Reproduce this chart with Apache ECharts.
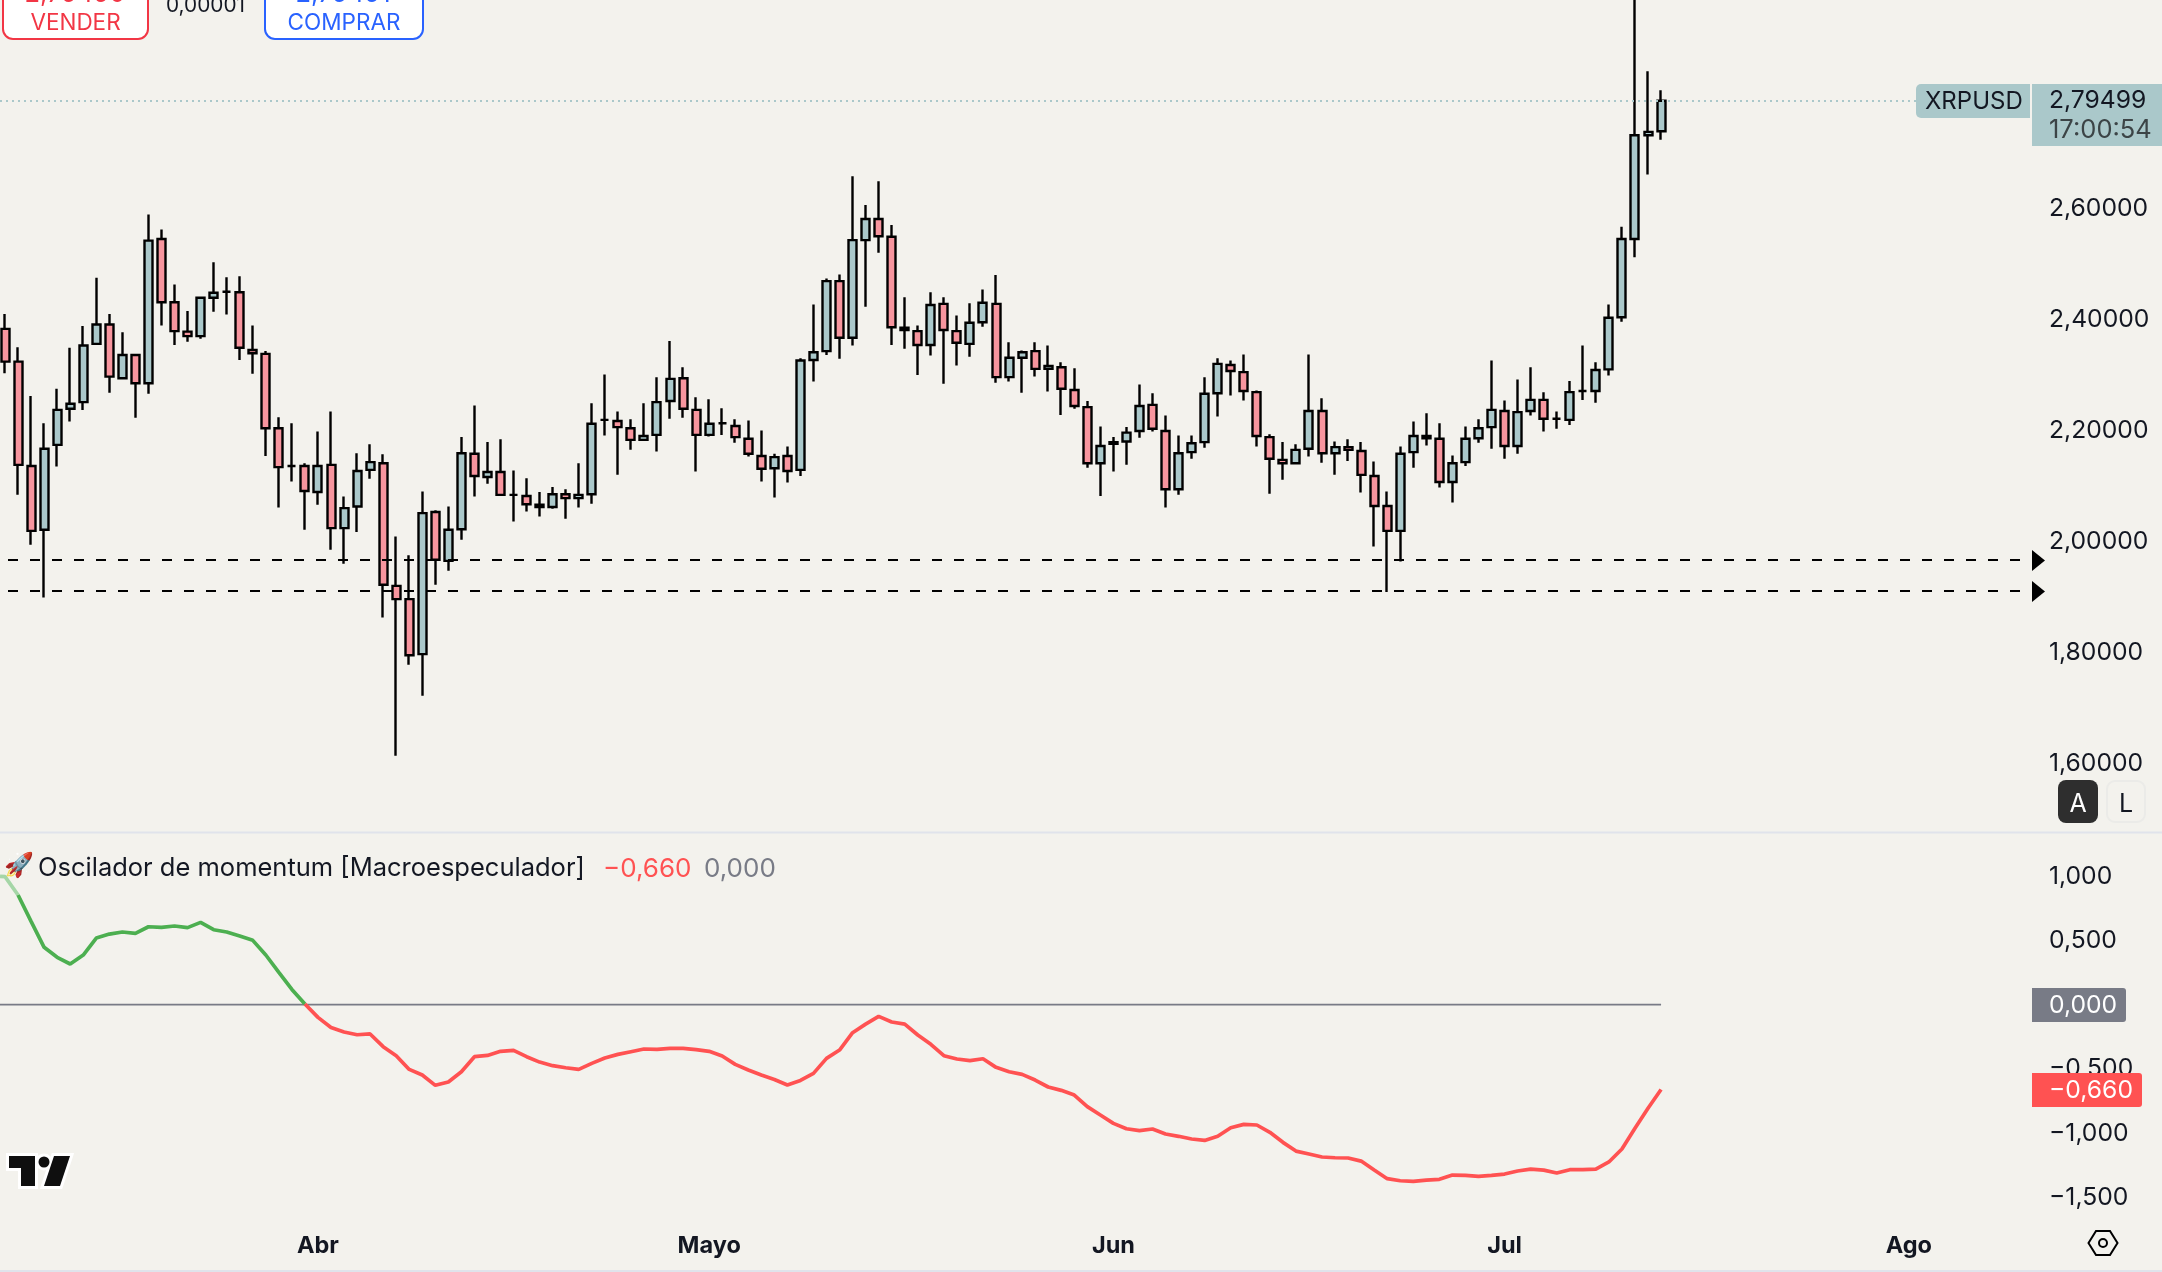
<!DOCTYPE html>
<html>

<head>
  <meta charset="utf-8" />
  <title>XRPUSD</title>
  <script src="https://cdn.jsdelivr.net/npm/echarts@6/dist/echarts.min.js"></script>
</head>
<style>
  body {
    margin: 0;
    padding: 0;
    overflow: hidden;
    background: #f3f2ed;
  }
</style>

<body>
  <div id="main" style="width: 2162px;height: 1272px;"></div>
  <script type="text/javascript">
    // daily candles, first one is 8 March
    const opens = [
      2.384, 2.325, 2.137, 2.022, 2.175, 2.240, 2.252, 2.357, 2.392, 2.295,
      2.337, 2.286, 2.546, 2.432, 2.379, 2.371, 2.440, 2.451, 2.450, 2.346,
      2.339, 2.205, 2.137, 2.137, 2.090, 2.139, 2.025, 2.064, 2.130, 2.142,
      1.921, 1.897, 1.798, 2.054, 1.966, 2.023, 2.159, 2.117, 2.126, 2.085,
      2.083, 2.067, 2.063, 2.086, 2.079, 2.086, 2.220, 2.218, 2.205, 2.184,
      2.193, 2.254, 2.295, 2.238, 2.193, 2.214, 2.209, 2.186, 2.155, 2.133,
      2.155, 2.130, 2.328, 2.344, 2.470, 2.368, 2.544, 2.582, 2.550, 2.386,
      2.380, 2.355, 2.429, 2.380, 2.357, 2.396, 2.429, 2.297, 2.332, 2.344,
      2.312, 2.315, 2.274, 2.243, 2.142, 2.180, 2.181, 2.200, 2.247, 2.200,
      2.095, 2.162, 2.180, 2.268, 2.319, 2.306, 2.270, 2.189, 2.148, 2.142,
      2.168, 2.236, 2.160, 2.171, 2.164, 2.119, 2.065, 2.020, 2.162, 2.191,
      2.186, 2.108, 2.144, 2.187, 2.207, 2.236, 2.173, 2.236, 2.256, 2.222,
      2.220, 2.272, 2.272, 2.311, 2.405, 2.546, 2.733, 2.740
    ];
    const closes = [
      2.325, 2.139, 2.020, 2.168, 2.238, 2.249, 2.354, 2.392, 2.298, 2.337,
      2.286, 2.543, 2.432, 2.380, 2.371, 2.440, 2.449, 2.451, 2.350, 2.340,
      2.205, 2.135, 2.137, 2.092, 2.137, 2.025, 2.061, 2.128, 2.144, 1.923,
      1.897, 1.796, 2.052, 1.968, 2.022, 2.160, 2.119, 2.126, 2.085, 2.085,
      2.068, 2.063, 2.086, 2.079, 2.085, 2.213, 2.220, 2.207, 2.184, 2.191,
      2.252, 2.294, 2.240, 2.193, 2.213, 2.214, 2.189, 2.159, 2.132, 2.153,
      2.128, 2.327, 2.342, 2.470, 2.368, 2.544, 2.582, 2.551, 2.387, 2.382,
      2.355, 2.427, 2.382, 2.359, 2.395, 2.431, 2.297, 2.332, 2.342, 2.312,
      2.317, 2.276, 2.245, 2.142, 2.173, 2.177, 2.197, 2.245, 2.204, 2.095,
      2.160, 2.178, 2.267, 2.321, 2.308, 2.272, 2.191, 2.150, 2.142, 2.166,
      2.236, 2.160, 2.171, 2.166, 2.121, 2.065, 2.020, 2.159, 2.191, 2.187,
      2.108, 2.142, 2.186, 2.205, 2.238, 2.173, 2.234, 2.256, 2.222, 2.222,
      2.270, 2.272, 2.310, 2.404, 2.546, 2.733, 2.739, 2.79499
    ];
    const highs = [
      2.411, 2.351, 2.263, 2.214, 2.276, 2.350, 2.389, 2.476, 2.411, 2.378,
      2.337, 2.590, 2.563, 2.464, 2.416, 2.440, 2.504, 2.477, 2.479, 2.390,
      2.344, 2.225, 2.214, 2.142, 2.199, 2.235, 2.082, 2.160, 2.176, 2.158,
      2.010, 1.976, 2.091, 2.057, 2.064, 2.189, 2.246, 2.180, 2.185, 2.129,
      2.115, 2.090, 2.099, 2.095, 2.142, 2.250, 2.302, 2.235, 2.221, 2.250,
      2.297, 2.362, 2.315, 2.261, 2.257, 2.241, 2.221, 2.219, 2.201, 2.159,
      2.172, 2.331, 2.428, 2.475, 2.482, 2.659, 2.607, 2.650, 2.571, 2.441,
      2.390, 2.450, 2.441, 2.408, 2.430, 2.455, 2.481, 2.360, 2.345, 2.360,
      2.354, 2.324, 2.313, 2.254, 2.208, 2.189, 2.207, 2.284, 2.268, 2.228,
      2.192, 2.192, 2.297, 2.331, 2.327, 2.338, 2.273, 2.194, 2.180, 2.176,
      2.338, 2.259, 2.181, 2.185, 2.180, 2.145, 2.091, 2.172, 2.217, 2.232,
      2.214, 2.156, 2.208, 2.221, 2.327, 2.255, 2.293, 2.315, 2.270, 2.235,
      2.290, 2.354, 2.324, 2.428, 2.568, 3.031, 2.848, 2.814
    ];
    const lows = [
      2.304, 2.085, 1.995, 1.900, 2.136, 2.217, 2.238, 2.357, 2.269, 2.295,
      2.224, 2.267, 2.390, 2.355, 2.361, 2.366, 2.415, 2.410, 2.328, 2.303,
      2.155, 2.062, 2.109, 2.022, 2.067, 1.986, 1.961, 2.018, 2.114, 1.864,
      1.615, 1.779, 1.723, 1.923, 1.948, 2.004, 2.082, 2.105, 2.085, 2.037,
      2.055, 2.046, 2.060, 2.042, 2.062, 2.069, 2.192, 2.121, 2.166, 2.184,
      2.163, 2.222, 2.224, 2.127, 2.190, 2.193, 2.179, 2.154, 2.109, 2.080,
      2.107, 2.119, 2.289, 2.337, 2.330, 2.354, 2.424, 2.521, 2.355, 2.348,
      2.301, 2.336, 2.285, 2.318, 2.334, 2.388, 2.287, 2.289, 2.269, 2.298,
      2.271, 2.229, 2.240, 2.134, 2.083, 2.127, 2.139, 2.188, 2.199, 2.062,
      2.085, 2.150, 2.170, 2.226, 2.264, 2.255, 2.172, 2.087, 2.112, 2.142,
      2.154, 2.143, 2.121, 2.146, 2.089, 1.992, 1.910, 1.965, 2.134, 2.174,
      2.098, 2.071, 2.137, 2.179, 2.168, 2.150, 2.159, 2.228, 2.199, 2.204,
      2.211, 2.256, 2.251, 2.300, 2.397, 2.513, 2.662, 2.725
    ];
    const oscillator = [
      0.997, 0.854, 0.649, 0.447, 0.369, 0.317, 0.387, 0.519, 0.550, 0.566,
      0.556, 0.607, 0.602, 0.613, 0.600, 0.641, 0.584, 0.566, 0.535, 0.501,
      0.387, 0.252, 0.119, 0.005, -0.099, -0.177, -0.213, -0.234, -0.228, -0.327,
      -0.397, -0.504, -0.548, -0.628, -0.602, -0.522, -0.405, -0.395, -0.363, -0.356,
      -0.405, -0.447, -0.475, -0.491, -0.504, -0.457, -0.415, -0.387, -0.366, -0.345,
      -0.348, -0.340, -0.340, -0.350, -0.363, -0.400, -0.465, -0.509, -0.548, -0.582,
      -0.625, -0.590, -0.535, -0.418, -0.353, -0.218, -0.151, -0.091, -0.135, -0.151,
      -0.236, -0.309, -0.397, -0.423, -0.436, -0.421, -0.488, -0.522, -0.543, -0.587,
      -0.641, -0.667, -0.704, -0.794, -0.859, -0.924, -0.966, -0.981, -0.968, -1.007,
      -1.025, -1.046, -1.057, -1.025, -0.958, -0.932, -0.937, -0.994, -1.072, -1.140,
      -1.163, -1.186, -1.192, -1.194, -1.218, -1.288, -1.355, -1.371, -1.376, -1.366,
      -1.360, -1.327, -1.329, -1.337, -1.329, -1.319, -1.295, -1.280, -1.288, -1.311,
      -1.285, -1.285, -1.280, -1.225, -1.124, -0.963, -0.807, -0.660
    ];
    const priceTicks = [1.6, 1.8, 2.0, 2.2, 2.4, 2.6];
    const oscTicks = [-1.5, -1, -0.5, 0, 0.5, 1];
    const supportLevels = [1.9676, 1.9117];
    const lastPrice = 2.79499;
    const monthTicks = [24, 54, 85, 115, 146]; // day index of the 1st of each month
    const monthNames = ['Abr', 'Mayo', 'Jun', 'Jul', 'Ago'];

    const FONT = 'Inter';
    const BG = '#f3f2ed';
    const UP = '#aac8ca';
    const DOWN = '#f7959e';
    const DARK = '#131722';
    const GREEN = '#4caf50';
    const RED = '#ff5252';
    const GREY = '#787b86';

    // value axis over the day index, the first candle sits 5px in from the edge
    const X_MIN = -0.384;
    const X_MAX = 155.37;
    const lastDay = opens.length - 1;

    const candleRows = opens.map((o, i) => [i, o, closes[i], lows[i], highs[i]]);
    // first bit of the line is faded, then green until it crosses zero
    const oscRows = oscillator.map((v, i) => [i, v]);
    const fadePart = [[X_MIN, 1.0]].concat(oscRows.slice(0, 2));
    const greenPart = oscRows.slice(1, 24);
    const redPart = oscRows.slice(23);
    const zeroLine = [[X_MIN, 0], [lastDay, 0]];

    const fmt = (v, digits) => (v < 0 ? '\u2212' : '') + Math.abs(v).toFixed(digits).replace('.', ',');

    const text = (x, y, str, size, fill, align, weight) => ({
      type: 'text', z: 50,
      style: { x, y, text: str, fontSize: size, fontFamily: FONT, fontWeight: weight || 400, fill, align: align || 'left', verticalAlign: 'middle' }
    });
    const box = (x, y, width, height, fill, stroke, r) => ({
      type: 'rect', z: 40,
      shape: { x, y, width, height, r },
      style: { fill, stroke: stroke || null, lineWidth: stroke ? 2 : 0 }
    });
    const poly = (points, fill, stroke, lineWidth) => ({
      type: 'polygon', z: 45, shape: { points },
      style: { fill, stroke: stroke || null, lineWidth: lineWidth || 0, lineJoin: 'miter' }
    });

    const chrome = [
      // order buttons cut off by the top of the image
      box(3, -40, 145, 79, '#fff', '#f23645', 10),
      box(265, -40, 158, 79, '#fff', '#2962ff', 10),
      text(75, -5.5, '2,79490', 25.5, '#f23645', 'center'),
      text(75.5, 23, 'VENDER', 22.5, '#f23645', 'center'),
      text(343, -5.5, '2,79491', 25.5, '#2962ff', 'center'),
      text(344, 23, 'COMPRAR', 22.5, '#2962ff', 'center'),
      text(166, 6, '0,00001', 20.8, DARK),

      // panel dividers
      { type: 'rect', z: 5, shape: { x: 0, y: 831.5, width: 2162, height: 2 }, style: { fill: '#e0e3eb' } },
      { type: 'rect', z: 5, shape: { x: 0, y: 1270, width: 2162, height: 2 }, style: { fill: '#e0e3eb' } },

      // last price tags
      box(1916, 84, 114, 34, UP, null, [5, 0, 0, 5]),
      text(1925, 101.5, 'XRPUSD', 24, DARK),
      box(2032, 84, 130, 62, UP, null, 0),
      text(2049, 100.5, fmt(lastPrice, 5), 24.7, DARK),
      text(2049, 130, '17:00:54', 25.5, '#3c4446'),

      // arrows at the end of the dashed levels
      poly([[2032, 550], [2045, 560.5], [2032, 571]], '#000'),
      poly([[2032, 581], [2045, 591.5], [2032, 602]], '#000'),

      // scale mode buttons
      box(2058, 780, 40, 43, '#2e2e2e', null, 8),
      text(2078, 804, 'A', 25, '#fff', 'center'),
      box(2107, 781, 38, 41, BG, '#ebebe8', 8),
      text(2126, 804, 'L', 25, DARK, 'center'),

      // oscillator legend
      text(4, 866, '\u{1F680}', 24, DARK),
      text(38, 868.5, 'Oscilador de momentum [Macroespeculador]', 25.5, DARK),
      text(603, 869, fmt(oscillator[oscillator.length - 1], 3), 26, RED),
      text(704, 869, fmt(0, 3), 26, GREY),

      // oscillator tags
      box(2032, 988, 94, 34, GREY, null, [0, 3, 3, 0]),
      text(2049, 1006, fmt(0, 3), 24.7, '#fff'),
      box(2032, 1073, 110, 34, RED, null, [0, 3, 3, 0]),
      text(2049, 1091, fmt(oscillator[oscillator.length - 1], 3), 24.7, '#fff'),

      // tradingview logo
      poly([[9, 1156], [35, 1156], [35, 1186], [21, 1186], [21, 1168], [9, 1168]], '#fff', '#fff', 6),
      { type: 'circle', z: 45, shape: { cx: 44, cy: 1162, r: 5.5 }, style: { fill: '#fff', stroke: '#fff', lineWidth: 6 } },
      poly([[54, 1156], [70, 1156], [60, 1186], [44, 1186]], '#fff', '#fff', 6),
      poly([[9, 1156], [35, 1156], [35, 1186], [21, 1186], [21, 1168], [9, 1168]], '#0f0f0f'),
      { type: 'circle', z: 46, shape: { cx: 44, cy: 1162, r: 5.5 }, style: { fill: '#0f0f0f' } },
      poly([[54, 1156], [70, 1156], [60, 1186], [44, 1186]], '#0f0f0f'),

      // settings hexagon
      poly([[2088.5, 1243], [2096, 1231], [2110, 1231], [2117.5, 1243], [2110, 1255], [2096, 1255]], 'none', '#000', 2),
      { type: 'circle', z: 46, shape: { cx: 2103, cy: 1243, r: 4 }, style: { fill: 'none', stroke: '#000', lineWidth: 2 } }
    ];

    const myChart = echarts.init(document.getElementById('main'));

    const option = {
      animation: false,
      backgroundColor: BG,
      textStyle: { fontFamily: FONT },
      grid: [
        { left: 0, top: 0, width: 2031, height: 832 },
        { left: 0, top: 833, width: 2031, height: 389 }
      ],
      xAxis: [
        { type: 'value', gridIndex: 0, min: X_MIN, max: X_MAX, show: false },
        {
          type: 'value', gridIndex: 1, min: X_MIN, max: X_MAX,
          axisLine: { show: false }, axisTick: { show: false }, splitLine: { show: false },
          axisLabel: {
            customValues: monthTicks,
            margin: 12,
            fontFamily: FONT, fontSize: 23.5, fontWeight: 700, color: DARK,
            formatter: v => monthNames[monthTicks.indexOf(v)]
          }
        }
      ],
      yAxis: [
        {
          type: 'value', gridIndex: 0, position: 'right', min: 1.47748, max: 2.97658,
          axisLine: { show: false }, axisTick: { show: false }, splitLine: { show: false },
          axisLabel: {
            customValues: priceTicks, margin: 18,
            fontFamily: FONT, fontSize: 24.7, color: DARK,
            formatter: v => fmt(v, 5)
          }
        },
        {
          type: 'value', gridIndex: 1, position: 'right', min: -1.6924, max: 1.3372,
          axisLine: { show: false }, axisTick: { show: false }, splitLine: { show: false },
          axisLabel: {
            customValues: oscTicks, margin: 18,
            fontFamily: FONT, fontSize: 24.7, color: DARK,
            formatter: v => fmt(v, 3)
          }
        }
      ],
      series: [
        {
          type: 'candlestick', xAxisIndex: 0, yAxisIndex: 0, data: candleRows,
          barWidth: 8.5,
          itemStyle: {
            color: UP, color0: DOWN,
            borderColor: '#000', borderColor0: '#000', borderColorDoji: '#000',
            borderWidth: 2.4
          },
          markLine: {
            silent: true, symbol: 'none', animation: false, label: { show: false }, precision: 5,
            data: [
              ...supportLevels.map(v => ({ yAxis: v, lineStyle: { color: '#000', width: 2, type: [10, 12], dashOffset: 14 } })),
              { yAxis: lastPrice, lineStyle: { color: UP, width: 2, type: [2, 4] } }
            ]
          }
        },
        { type: 'line', xAxisIndex: 1, yAxisIndex: 1, data: zeroLine, symbol: 'none', silent: true, lineStyle: { color: GREY, width: 1.8 } },
        { type: 'line', xAxisIndex: 1, yAxisIndex: 1, data: fadePart, symbol: 'none', silent: true, lineStyle: { color: '#a5d6a7', width: 3.7 } },
        { type: 'line', xAxisIndex: 1, yAxisIndex: 1, data: greenPart, symbol: 'none', silent: true, lineStyle: { color: GREEN, width: 3.7 } },
        { type: 'line', xAxisIndex: 1, yAxisIndex: 1, data: redPart, symbol: 'none', silent: true, lineStyle: { color: RED, width: 3.7 } }
      ],
      graphic: chrome
    };
    myChart.setOption(option);
  </script>
</body>

</html>
